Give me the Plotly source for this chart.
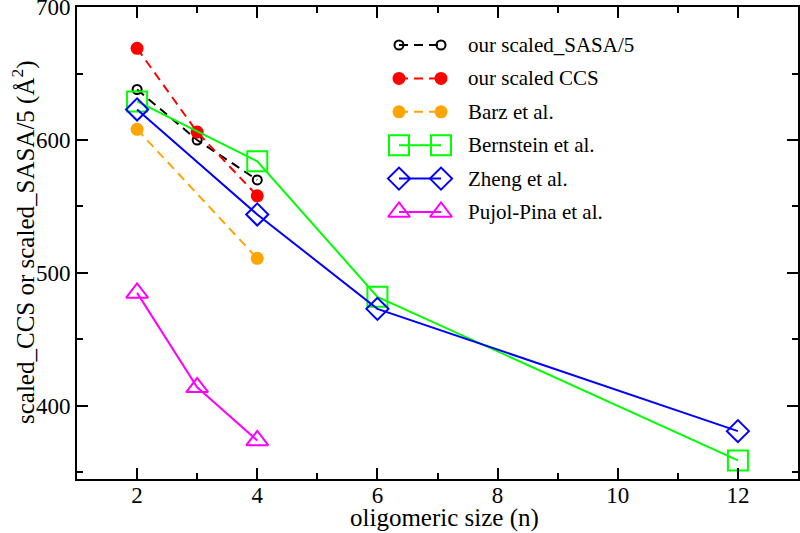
import plotly.graph_objects as go

# ---- data ----
n_sasa = [2, 3, 4]
sasa = [638, 600, 570]
n_ccs = [2, 3, 4]
ccs = [669, 606, 558]
n_barz = [2, 4]
barz = [608, 511]
n_bern = [2, 4, 6, 12]
bern = [629, 584, 482, 359]
n_zheng = [2, 4, 6, 12]
zheng = [623, 544, 473, 381]
n_pujol = [2, 3, 4]
pujol = [485, 414, 374]

names = ["our scaled_SASA/5", "our scaled CCS", "Barz et al.",
         "Bernstein et al.", "Zheng et al.", "Pujol-Pina et al."]
x_ticks = [2, 4, 6, 8, 10, 12]
y_ticks = [400, 500, 600, 700]

FONT = "Liberation Serif"

styles = [
    dict(line=dict(color="black", width=2, dash="9px,6px"),
         marker=dict(symbol="circle-open", size=9, color="black", line=dict(width=2))),
    dict(line=dict(color="red", width=2, dash="9px,6px"),
         marker=dict(symbol="circle", size=13, color="red")),
    dict(line=dict(color="orange", width=2, dash="9px,6px"),
         marker=dict(symbol="circle", size=13, color="orange")),
    dict(line=dict(color="#00ff00", width=2),
         marker=dict(symbol="square-open", size=20, color="#00ff00", line=dict(width=2))),
    dict(line=dict(color="blue", width=2),
         marker=dict(symbol="diamond-open", size=17, color="blue", line=dict(width=2))),
    dict(line=dict(color="magenta", width=2),
         marker=dict(symbol="triangle-up-open", size=19, color="magenta", line=dict(width=2))),
]

series = [(n_sasa, sasa), (n_ccs, ccs), (n_barz, barz),
          (n_bern, bern), (n_zheng, zheng), (n_pujol, pujol)]

fig = go.Figure()
for (xs, ys), nm, st in zip(series, names, styles):
    fig.add_trace(go.Scatter(x=xs, y=ys, mode="lines+markers", name=nm,
                             showlegend=False, **st))

# ---- custom Grace-style legend on overlay axes ----
plot_top, plot_bot, plot_left, plot_right = 7, 479, 77, 798
H = plot_bot - plot_top
W = plot_right - plot_left
lx0 = (399 - plot_left) / W
lx1 = (441 - plot_left) / W
tx = (466 - plot_left) / W
for i, (nm, st) in enumerate(zip(names, styles)):
    py = 45 + 33.4 * i
    yy = (plot_bot - py) / H
    fig.add_trace(go.Scatter(x=[lx0, lx1], y=[yy, yy], mode="lines+markers",
                             xaxis="x2", yaxis="y2", showlegend=False,
                             hoverinfo="skip", **st))
    fig.add_annotation(x=tx, y=yy, xref="x2", yref="y2", text=nm,
                       showarrow=False, xanchor="left", yanchor="middle",
                       font=dict(family=FONT, size=21, color="black"))

# axis titles as annotations for exact placement
fig.add_annotation(x=(444 - plot_left) / W, y=-(518 - plot_bot) / H,
                   xref="paper", yref="paper",
                   text="oligomeric size (n)", showarrow=False,
                   xanchor="center", yanchor="middle",
                   font=dict(family=FONT, size=25, color="black"))
fig.add_annotation(x=-(plot_left - 23) / W, y=(plot_bot - 242) / H,
                   xref="paper", yref="paper",
                   text="scaled_CCS or scaled_SASA/5 (Å<sup>2</sup>)", showarrow=False,
                   textangle=-90, xanchor="center", yanchor="middle",
                   font=dict(family=FONT, size=25, color="black"))

axis_common = dict(showline=True, linecolor="black", linewidth=2, mirror="allticks",
                   ticks="inside", ticklen=11, tickwidth=2, tickcolor="black",
                   showgrid=False, zeroline=False, automargin=False,
                   ticklabeloverflow="allow",
                   tickfont=dict(family=FONT, size=23, color="black"))

fig.update_layout(
    width=800, height=533,
    paper_bgcolor="white", plot_bgcolor="white",
    margin=dict(l=plot_left, r=800 - plot_right, t=plot_top, b=533 - plot_bot),
    xaxis=dict(range=[1, 13], tickvals=x_ticks, ticklabelstandoff=-6,
               minor=dict(tickvals=[3, 5, 7, 9, 11], ticks="inside", ticklen=6,
                          tickwidth=2, tickcolor="black"),
               **axis_common),
    yaxis=dict(range=[345, 700.05], tickvals=y_ticks,
               minor=dict(tickvals=[350, 450, 550, 650], ticks="inside", ticklen=6,
                          tickwidth=2, tickcolor="black"),
               **axis_common),
    xaxis2=dict(overlaying="x", range=[0, 1], visible=False),
    yaxis2=dict(overlaying="y", range=[0, 1], visible=False),
    showlegend=False,
)

fig.write_html("out.html", config={"displayModeBar": False},
               post_script="document.body.style.margin='0';document.body.style.padding='0';")
